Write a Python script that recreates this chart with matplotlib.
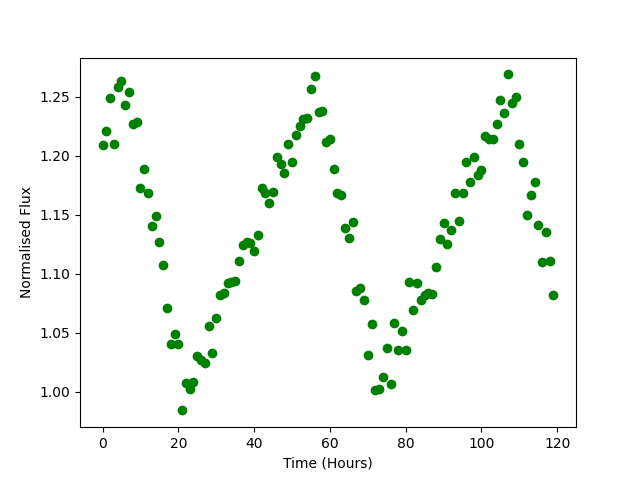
import matplotlib
matplotlib.use("Agg")
import matplotlib.pyplot as plt
import numpy as np

hours = list(range(120))
flux = [
    1.209, 1.221, 1.249, 1.210, 1.258, 1.263, 1.243, 1.254, 1.227, 1.229,
    1.173, 1.189, 1.168, 1.140, 1.149, 1.127, 1.107, 1.071, 1.040, 1.049,
    1.040, 0.984, 1.007, 1.002, 1.008, 1.030, 1.027, 1.024, 1.056, 1.033,
    1.062, 1.082, 1.084, 1.092, 1.093, 1.094, 1.111, 1.124, 1.127, 1.126,
    1.119, 1.133, 1.173, 1.168, 1.160, 1.169, 1.199, 1.193, 1.185, 1.210,
    1.195, 1.218, 1.225, 1.231, 1.232, 1.257, 1.268, 1.237, 1.238, 1.212,
    1.214, 1.189, 1.168, 1.167, 1.139, 1.130, 1.144, 1.085, 1.088, 1.078,
    1.031, 1.057, 1.001, 1.002, 1.012, 1.037, 1.006, 1.058, 1.035, 1.051,
    1.035, 1.093, 1.069, 1.092, 1.078, 1.082, 1.084, 1.083, 1.106, 1.129,
    1.143, 1.125, 1.137, 1.168, 1.145, 1.168, 1.195, 1.178, 1.199, 1.184,
    1.188, 1.217, 1.214, 1.214, 1.227, 1.247, 1.236, 1.269, 1.245, 1.250,
    1.210, 1.195, 1.150, 1.167, 1.178, 1.141, 1.110, 1.135, 1.111, 1.082,
]

fig, ax = plt.subplots(figsize=(6.4, 4.8), dpi=100)
ax.plot(hours, flux, 'o', color='green')
ax.set_xlabel("Time (Hours)")
ax.set_ylabel("Normalised Flux")
fig.savefig("out.png")
